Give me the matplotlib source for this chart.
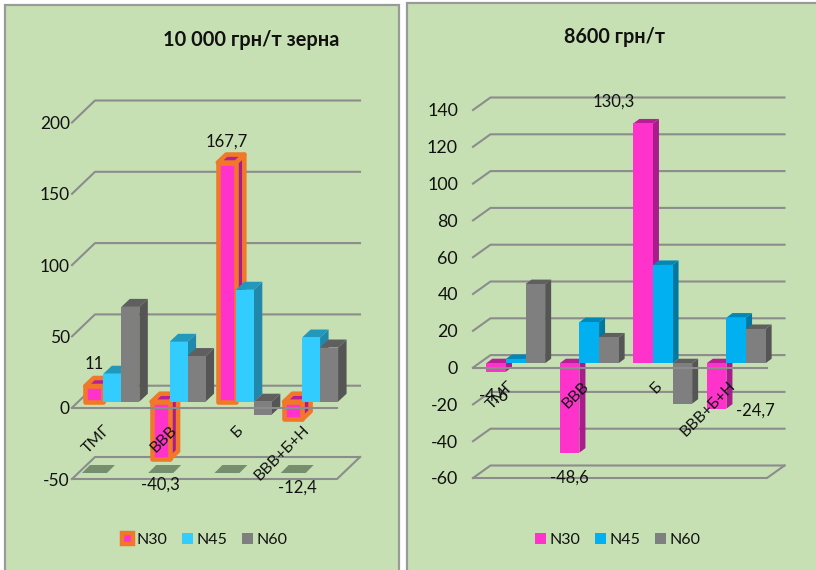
import matplotlib
matplotlib.use('Agg')
import matplotlib.pyplot as plt
from matplotlib.patches import Polygon, Rectangle, Patch

plt.rcParams['font.family'] = ['Lato', 'Open Sans', 'DejaVu Sans']
plt.rcParams['axes.unicode_minus'] = False

W, H = 816, 570

categories = ['ТМГ', 'ВВВ', 'Б', 'ВВВ+Б+Н']
series = ['N30', 'N45', 'N60']

# 10 000 грн/т зерна
left_n30 = [11, -40.3, 167.7, -12.4]
left_n45 = [19.6, 42, 78.5, 45]
left_n60 = [66.5, 32, -9, 38]
left_ticks = [-50, 0, 50, 100, 150, 200]

# 8600 грн/т
right_n30 = [-4.6, -48.6, 130.3, -24.7]
right_n45 = [2.3, 22.3, 53.4, 24.8]
right_n60 = [43, 14, -22, 18.6]
right_ticks = [-60, -40, -20, 0, 20, 40, 60, 80, 100, 120, 140]

GRID = '#8c8c8c'
BG = '#c6e0b4'
TXT = '#111111'


def fx(px):
    return px / W


def fy(px):
    return 1 - px / H


def make_axes(x0, x1, ytop, ybot, vmin, vmax):
    ax = fig.add_axes([fx(x0), fy(ybot), (x1 - x0) / W, (ybot - ytop) / H])
    ax.set_xlim(0, 4)
    ax.set_ylim(vmin, vmax)
    ax.patch.set_visible(False)
    for s in ax.spines.values():
        s.set_visible(False)
    ax.set_xticks([])
    ax.set_yticks([])
    return ax


def grid(ax, ticks, zero, dx, dy):
    # задняя стенка и короткие штрихи слева
    x0, x1 = ax.get_xlim()
    for t in ticks:
        ax.plot([x0, x0 + dx, x1 + dx], [t, t + dy, t + dy], color=GRID, lw=1.5,
                zorder=1, clip_on=False, solid_joinstyle='round')
    t = ticks[0]
    ax.plot([x0, x1, x1 + dx], [t, t, t + dy], color=GRID, lw=1.5, zorder=1, clip_on=False)
    # передняя линия нуля идет поверх столбиков
    ax.plot([x0, x1], [zero, zero], color=GRID, lw=1.5, zorder=30, clip_on=False)


def bar3d(ax, x, w, base, v, dx, dy, cols, z, edge=None):
    top = base + max(v, 0)
    bot = base + min(v, 0)
    face, side, upper = cols
    kw = dict(clip_on=False, zorder=z)
    if edge:
        kw.update(edgecolor=edge, lw=3.3, joinstyle='round')
    else:
        kw.update(lw=0)
    ax.add_patch(Polygon([(x + w, bot), (x + w + dx, bot + dy), (x + w + dx, top + dy), (x + w, top)],
                         facecolor=side, **kw))
    ax.add_patch(Polygon([(x, top), (x + dx, top + dy), (x + w + dx, top + dy), (x + w, top)],
                         facecolor=upper, **kw))
    ax.add_patch(Rectangle((x, bot), w, top - bot, facecolor=face, **kw))


fig = plt.figure(figsize=(W / 100, H / 100), dpi=100, facecolor='white')

# панели
fig.add_artist(Rectangle((fx(5), fy(572)), 394 / W, 567 / H, transform=fig.transFigure,
                         facecolor=BG, edgecolor='#9a9a9a', lw=1.6, zorder=-5))
fig.add_artist(Rectangle((fx(407), fy(572)), 412 / W, 569 / H, transform=fig.transFigure,
                         facecolor=BG, edgecolor='#9a9a9a', lw=1.6, zorder=-5))

# --- левый график ---
ax1 = make_axes(72, 337, 122.5, 479, -50, 200)
xu1 = 4 / 265
yu1 = 250 / 356.5
grid(ax1, left_ticks, 0, 23 * xu1, 22 * yu1)
ax1.set_yticks(left_ticks)
ax1.tick_params(axis='y', length=0, pad=1.5, labelsize=12.5, labelcolor=TXT)

left_cols = [('#ff33cc', '#a81c8c', '#b81f96'),
             ('#33ccff', '#2288aa', '#2299bb'),
             ('#7f7f7f', '#555555', '#5f5f5f')]
w1 = 18 * xu1
base1 = 6 * yu1
for c in range(4):
    # тень на полу
    sx = c + 0.15
    ax1.add_patch(Polygon([(sx, -45.8), (sx + 25 * xu1, -45.8), (sx + 33 * xu1, -40.2), (sx + 8 * xu1, -40.2)],
                          facecolor='#748e6e', lw=0, zorder=2))
    for s, vals in enumerate([left_n30, left_n45, left_n60]):
        x = c + 0.5 + (s - 1.5) * w1 + 7.2 * xu1
        edge = '#f07828' if s == 0 else None
        bar3d(ax1, x, w1, base1, vals[c], 8.5 * xu1, 8 * yu1, left_cols[s], 10 + c * 3 + s, edge)
    ax1.text(c + 0.5 + 3 * xu1, -20 * yu1, categories[c], rotation=45, ha='right', va='center',
             rotation_mode='anchor', fontsize=11.5, color=TXT, zorder=40)

# подписи значений, смещение от верха/низа столбика N30
for c, off in [(0, (0, 22)), (1, (0, -25)), (2, (0, 21)), (3, (4, -68))]:
    v = left_n30[c]
    x = c + 0.5 - w1 + 7.2 * xu1
    ax1.annotate(('%g' % v).replace('.', ','), (x, v + base1), xytext=off, textcoords='offset pixels',
                 ha='center', va='center', fontsize=12, color=TXT, zorder=40, annotation_clip=False)

# --- правый график ---
ax2 = make_axes(473, 767, 110, 478, -60, 140)
xu2 = 4 / 294
yu2 = 200 / 368
grid(ax2, right_ticks, 0, 17.5 * xu2, 12.5 * yu2)
ax2.set_yticks(right_ticks)
ax2.tick_params(axis='y', length=0, pad=10.8, labelsize=12.8, labelcolor=TXT)

right_cols = [('#ff33cc', '#a81c8c', '#b81f96'),
              ('#00b0f0', '#0078a0', '#0088b8'),
              ('#7f7f7f', '#555555', '#5f5f5f')]
w2 = 19.6 * xu2
base2 = 4.4 * yu2
for c in range(4):
    for s, vals in enumerate([right_n30, right_n45, right_n60]):
        x = c + 0.5 + (s - 1.5) * w2 + 6 * xu2
        bar3d(ax2, x, w2, base2, vals[c], 6 * xu2, 4.5 * yu2, right_cols[s], 10 + c * 3 + s)
    ax2.text(c + 0.5 + 3 * xu2, -16.5 * yu2, categories[c], rotation=45, ha='right', va='center',
             rotation_mode='anchor', fontsize=11.5, color=TXT, zorder=40)

for c, off in [(0, (-3, -24)), (1, (0, -25)), (2, (-29, 22)), (3, (39, -2))]:
    v = right_n30[c]
    x = c + 0.5 - w2 + 6 * xu2
    ax2.annotate(('%g' % v).replace('.', ','), (x, v + base2), xytext=off, textcoords='offset pixels',
                 ha='center', va='center', fontsize=12, color=TXT, zorder=40, annotation_clip=False)

# заголовки
fig.text(fx(251), fy(40), '10 000 грн/т зерна', ha='center', va='center', fontsize=14.4,
         fontweight='bold', color=TXT)
fig.text(fx(614), fy(37), '8600 грн/т', ha='center', va='center', fontsize=14.2,
         fontweight='bold', color=TXT)

# легенды
h1 = [Patch(facecolor='#ff33cc', edgecolor='#f07828', lw=3.2, joinstyle='round'),
      Patch(facecolor='#33ccff', lw=0), Patch(facecolor='#7f7f7f', lw=0)]
h2 = [Patch(facecolor='#ff33cc', lw=0), Patch(facecolor='#00b0f0', lw=0), Patch(facecolor='#7f7f7f', lw=0)]
for hs, cx in [(h1, 205), (h2, 618)]:
    fig.legend(hs, series, loc='center', bbox_to_anchor=(fx(cx), fy(540)), ncol=3, frameon=False,
               fontsize=11.5, handlelength=0.7, handleheight=0.7, handletextpad=0.22,
               columnspacing=0.9, labelcolor=TXT)

fig.savefig('out.png', dpi=100)
